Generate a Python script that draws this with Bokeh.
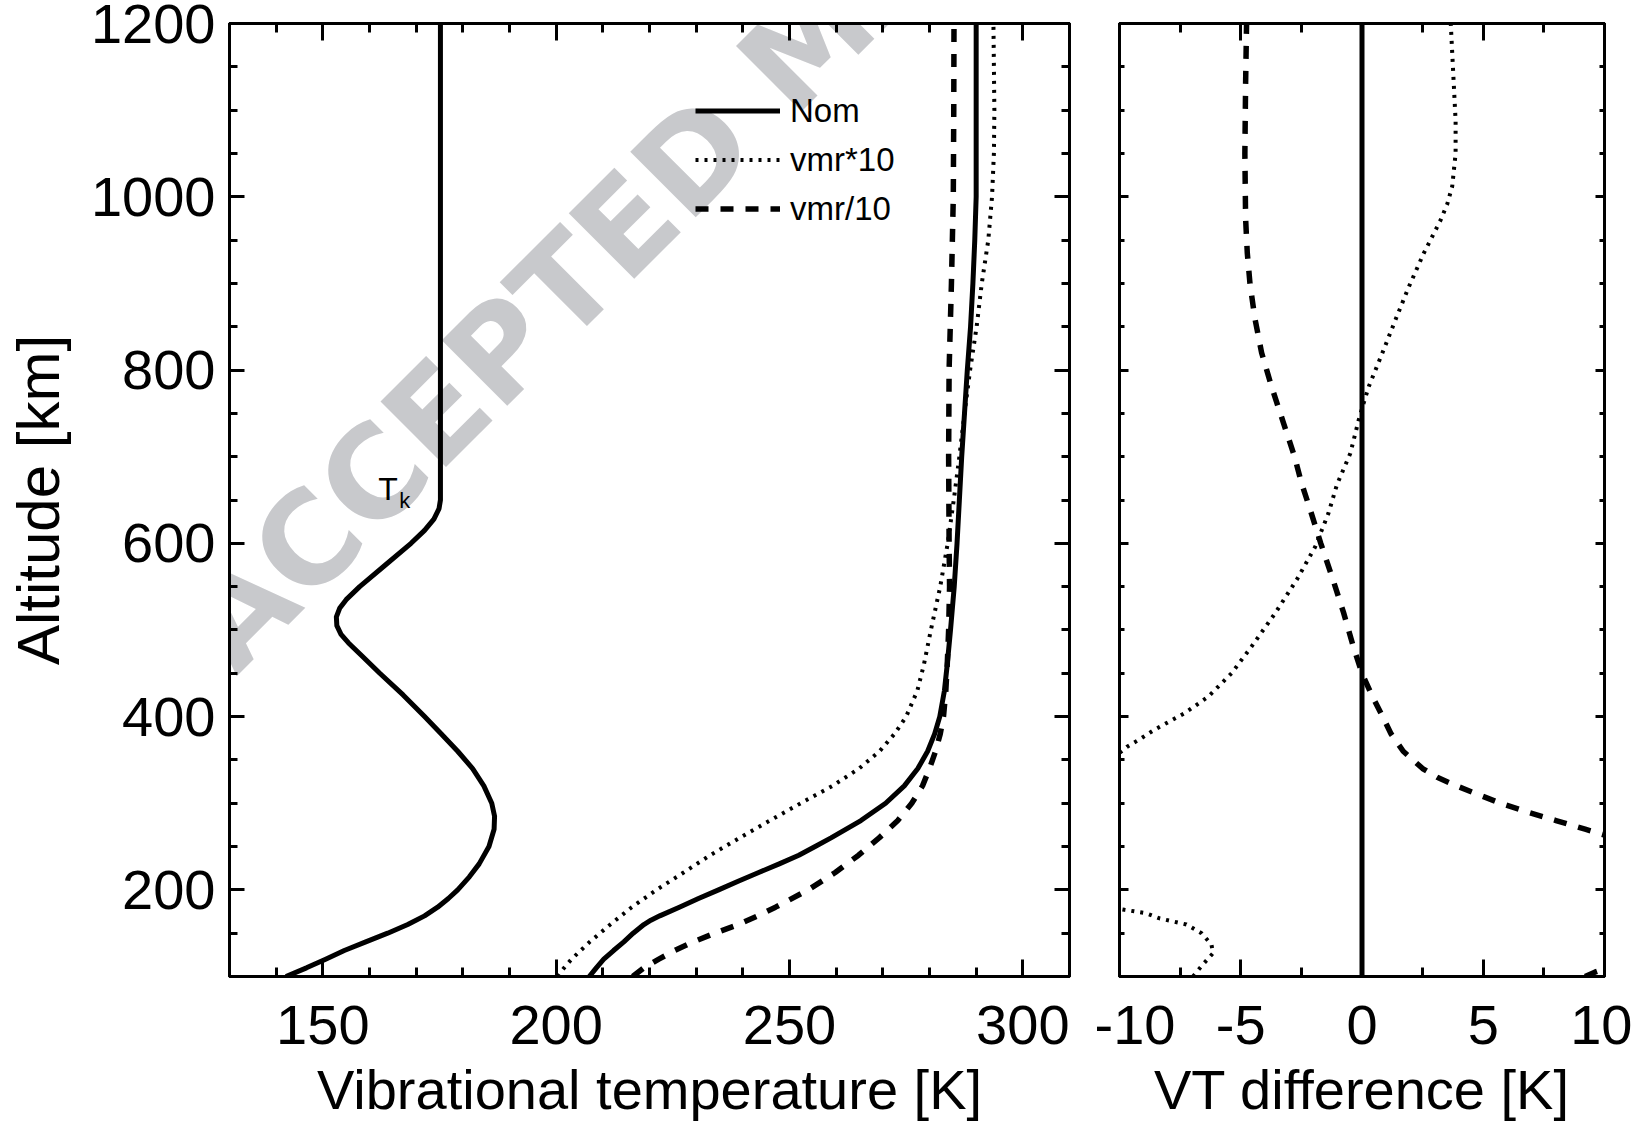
from bokeh.plotting import figure
from bokeh.models import (Range1d, LinearAxis, SingleIntervalTicker, Label, Legend, LegendItem,
                          PrintfTickFormatter, CustomJSTickFormatter)
from bokeh.layouts import row
from bokeh.embed import file_html
from bokeh.resources import INLINE

FONT = "Liberation Sans"

# ---------------- data ----------------
# kinetic temperature profile Tk
alt_tk = [100, 110, 120, 130, 140, 150, 160, 170, 180, 190, 200, 215, 230, 250, 270, 285, 300,
          320, 340, 360, 380, 400, 425, 450, 470, 485, 495, 505, 515, 525, 535, 550, 575, 600,
          615, 628, 640, 650, 1200]
tk = [142.1, 146.5, 150.6, 154.6, 159.2, 163.9, 168.2, 171.8, 174.6, 176.9, 178.9, 181.4, 183.5,
      185.6, 186.7, 186.8, 186.2, 184.5, 182.1, 178.9, 175.4, 171.8, 167.2, 162.2, 158.4, 155.5,
      153.9, 153.0, 152.9, 153.6, 155.0, 157.9, 163.4, 168.9, 171.8, 173.8, 174.9, 175.2, 175.2]

# vibrational temperatures
alt_nom = [100, 110, 120, 130, 140, 150, 160, 165, 170, 180, 190, 200, 210, 220, 230, 240, 250,
           260, 280, 300, 320, 340, 360, 380, 400, 430, 460, 500, 550, 600, 650, 700, 750, 800,
           850, 900, 950, 1000, 1200]
vt_nom = [207.1, 208.6, 210.2, 212.3, 214.5, 216.5, 218.8, 220.3, 222.2, 226.4, 230.5, 234.8,
          239.0, 243.4, 247.8, 252.0, 255.5, 258.9, 265.3, 270.6, 274.6, 277.5, 279.6, 281.1,
          282.2, 283.2, 283.8, 284.5, 285.3, 285.9, 286.4, 286.9, 287.5, 288.1, 288.8, 289.3,
          289.7, 290.0, 290.0]

alt_x10 = [100, 110, 120, 140, 160, 180, 200, 220, 240, 260, 280, 300, 320, 340, 360, 380, 400,
           430, 460, 500, 550, 600, 650, 700, 750, 800, 850, 900, 950, 1000, 1050, 1100, 1200]
vt_x10 = [200.3, 201.7, 203.3, 207.2, 211.6, 216.2, 221.5, 227.3, 233.0, 239.3, 245.8, 252.4,
          259.2, 264.9, 269.3, 272.5, 275.0, 277.4, 278.8, 280.3, 282.3, 283.9, 285.2, 286.4,
          287.5, 288.7, 290.1, 291.2, 292.6, 293.4, 293.8, 293.9, 293.7]

alt_d10 = [100, 110, 120, 130, 140, 150, 160, 170, 180, 200, 220, 240, 260, 280, 300, 320, 340,
           360, 380, 400, 430, 460, 500, 550, 600, 700, 800, 900, 1000, 1100, 1200]
vt_d10 = [216.4, 218.8, 222.0, 225.4, 229.4, 234.0, 239.0, 243.2, 247.0, 254.0, 259.8, 264.8,
          269.2, 273.2, 276.2, 278.5, 280.0, 281.3, 282.3, 283.0, 283.5, 283.8, 284.1, 284.3,
          284.2, 284.1, 284.2, 284.7, 285.1, 285.2, 285.25]

# VT differences with respect to the nominal case
alt_dnom = [100, 1200]
diff_nom = [0.0, 0.0]

alt_dx10 = [100, 112, 127, 137, 150, 160, 167, 173, 177, 185, 200, 250, 300, 340, 352, 358, 365,
            375, 385, 404, 423, 450, 481, 519, 558, 596, 635, 668, 704, 742, 762, 781, 819, 858,
            896, 935, 973, 992, 1012, 1050, 1088, 1127, 1200]
diff_x10 = [-6.97, -6.62, -6.14, -6.21, -6.62, -7.24, -8.34, -8.9, -9.79, -11.5, -13.3, -16.0,
            -18.2, -12.6, -10.9, -10.0, -9.7, -9.1, -8.55, -7.31, -6.34, -5.38, -4.55, -3.59,
            -2.69, -1.93, -1.38, -1.03, -0.48, -0.14, 0.07, 0.28, 0.83, 1.38, 1.93, 2.55, 3.24,
            3.52, 3.72, 3.86, 3.86, 3.79, 3.66]

alt_dd10 = [100, 105, 112, 120, 140, 160, 180, 200, 220, 240, 260, 270, 280, 290, 300, 310, 320,
            330, 340, 350, 360, 380, 400, 425, 450, 480, 520, 560, 600, 640, 670, 700, 740, 780,
            820, 860, 900, 935, 975, 1050, 1130, 1200]
diff_d10 = [9.2, 9.6, 10.3, 11.8, 14.9, 20.2, 20.6, 19.2, 16.4, 12.8, 10.4, 9.2, 8.0, 6.8, 5.7,
            4.8, 3.9, 3.1, 2.5, 2.1, 1.7, 1.2, 0.85, 0.4, 0.0, -0.35, -0.76, -1.22, -1.7, -2.15,
            -2.5, -2.78, -3.25, -3.72, -4.14, -4.42, -4.62, -4.73, -4.8, -4.83, -4.8, -4.76]

legend_labels = ["Nom", "vmr*10", "vmr/10"]

# ---------------- styling helpers ----------------
def make_fig(width, xr, left, right):
    p = figure(width=width, height=1123, x_range=Range1d(*xr), y_range=Range1d(100, 1200),
               output_backend="svg", toolbar_location=None,
               min_border_left=left, min_border_right=right,
               min_border_top=23, min_border_bottom=146)
    p.xgrid.visible = False
    p.ygrid.visible = False
    p.outline_line_color = "black"
    p.outline_line_width = 3
    p.background_fill_color = "white"
    p.border_fill_color = "white"
    return p


def style_axis(ax, ticker, maj, mnr, labels, label_standoff=0):
    ax.ticker = ticker
    ax.axis_line_width = 3
    ax.axis_line_color = "black"
    ax.major_tick_line_width = 3
    ax.minor_tick_line_width = 3
    ax.major_tick_in = maj
    ax.major_tick_out = 0
    ax.minor_tick_in = mnr
    ax.minor_tick_out = 0
    ax.major_label_text_font = FONT
    ax.major_label_text_color = "black"
    ax.major_label_text_font_size = "56px"
    if labels:
        ax.formatter = PrintfTickFormatter(format="%d")
        ax.major_label_standoff = label_standoff
    else:
        ax.formatter = CustomJSTickFormatter(code="return ''")
        ax.major_label_standoff = 0
    ax.axis_label_text_font = FONT
    ax.axis_label_text_font_size = "56px"
    ax.axis_label_text_font_style = "normal"
    ax.axis_label_text_color = "black"


def setup_axes(p, xint, xminor, x_maj, x_min, y_maj, y_min, xlabel, ylabel, ylabels):
    xt = SingleIntervalTicker(interval=xint, num_minor_ticks=xminor)
    yt = SingleIntervalTicker(interval=200, num_minor_ticks=4)
    bx = p.xaxis[0]
    style_axis(bx, xt, x_maj, x_min, True, 29)
    bx.axis_label = xlabel
    bx.axis_label_standoff = 11
    ly = p.yaxis[0]
    style_axis(ly, yt, y_maj, y_min, ylabels, 14)
    if ylabel:
        ly.axis_label = ylabel
        ly.axis_label_standoff = 16
        ly.axis_label_text_font_size = "60px"
    top = LinearAxis()
    style_axis(top, SingleIntervalTicker(interval=xint, num_minor_ticks=xminor), x_maj, x_min, False)
    p.add_layout(top, "above")
    right = LinearAxis()
    style_axis(right, SingleIntervalTicker(interval=200, num_minor_ticks=4), y_maj, y_min, False)
    p.add_layout(right, "right")


# ---------------- left panel ----------------
p1 = make_fig(1094, (130, 310), 229, 25)
setup_axes(p1, 50, 5, 17, 9, 15, 8, "Vibrational temperature [K]", "Altitude [km]", True)

watermark = Label(x=124.8, y=482, text="ACCEPTED MANUSCRIPT", angle=45, angle_units="deg",
                  text_font="DejaVu Sans", text_font_style="bold", text_font_size="127px",
                  text_color="#c8c9cc", text_baseline="alphabetic", text_align="left",
                  level="underlay")
p1.add_layout(watermark)

p1.line(tk, alt_tk, line_width=5, color="black", line_join="round")
r_nom = p1.line(vt_nom, alt_nom, line_width=5, color="black", line_join="round")
r_x10 = p1.line(vt_x10, alt_x10, line_width=4, color="black", line_dash="3 6")
r_d10 = p1.line(vt_d10, alt_d10, line_width=5.5, color="black", line_dash="13 12")

p1.add_layout(Label(x=161.9, y=663, text="T", text_font=FONT, text_font_size="32px",
                    text_baseline="alphabetic", text_color="black"))
p1.add_layout(Label(x=166.4, y=650, text="k", text_font=FONT, text_font_size="22px",
                    text_baseline="alphabetic", text_color="black"))

legend = Legend(items=[LegendItem(label=legend_labels[0], renderers=[r_nom]),
                       LegendItem(label=legend_labels[1], renderers=[r_x10]),
                       LegendItem(label=legend_labels[2], renderers=[r_d10])],
                location=(466, 743), glyph_width=85, glyph_height=49, label_height=49,
                spacing=0, padding=0, margin=0, label_standoff=10,
                label_text_font=FONT, label_text_font_size="33px", label_text_color="black",
                border_line_color=None, background_fill_alpha=0)
p1.add_layout(legend)

# ---------------- right panel ----------------
p2 = make_fig(538, (-10, 10), 25, 28)
setup_axes(p2, 5, 2, 17, 9, 9, 5, "VT difference [K]", None, False)

p2.line(diff_nom, alt_dnom, line_width=5, color="black")
p2.line(diff_x10, alt_dx10, line_width=4, color="black", line_dash="3 6")
p2.line(diff_d10, alt_dd10, line_width=5.5, color="black", line_dash="13 12")

layout = row(p1, p2, spacing=0)
open("out.html", "w").write(file_html(layout, INLINE))
